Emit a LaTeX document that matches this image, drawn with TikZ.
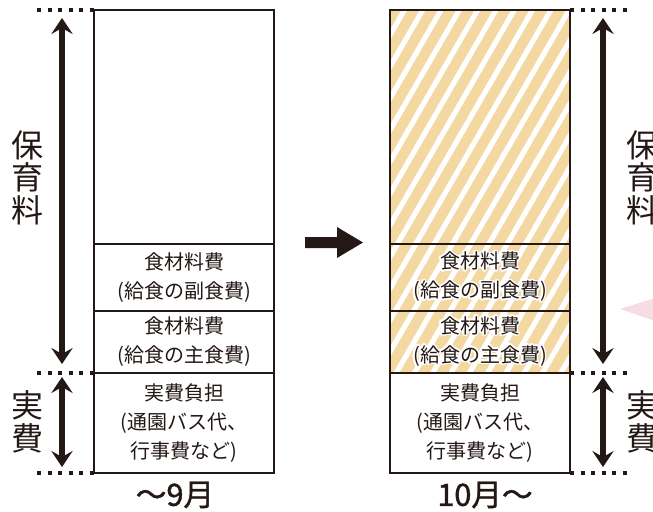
\documentclass[tikz,border=0pt]{standalone}
\usepackage{fontspec}
\setmainfont{Noto Sans CJK JP}
\newfontfamily\monthfont[AutoFakeBold=1.3]{Noto Sans CJK JP}
\usepackage{contour}
\contourlength{1.2pt}
\contournumber{20}
\usetikzlibrary{arrows.meta}
\definecolor{ink}{RGB}{35,24,21}
\definecolor{hatch}{RGB}{243,216,162}
\definecolor{pinkmark}{RGB}{246,220,229}
\tikzset{
	seg/.style={draw=ink, line width=1.5pt, inner sep=0pt, outer sep=0pt, minimum width=135pt, align=center, text=ink, font=\fontsize{15pt}{21.75pt}\selectfont},
	dots/.style={ink, line width=3pt, dash pattern=on 3pt off 4.9pt},
	span/.style={ink, line width=4pt, {Stealth[length=12pt,width=16pt,inset=4.5pt]}-{Stealth[length=12pt,width=16pt,inset=4.5pt]}},
	vlabel/.style={align=center, text=ink, inner sep=0pt, font=\fontsize{24pt}{24.4pt}\selectfont},
	month/.style={text=ink, inner sep=0pt, font=\monthfont\fontsize{23pt}{26pt}\selectfont\bfseries},
	stripe/.style={hatch, line width=7.8pt},
}
\begin{document}
\begin{tikzpicture}[x=.75pt,y=-.75pt]
		\useasboundingbox (0,0) rectangle (653,511);
		
		% hatching of the new column
		\begin{scope}
			\clip (390,10) rectangle (570,373);
			\foreach \k in {-1,...,21} \draw[stripe] ({204+18.3*\k-5.2},382) -- ({204+18.3*\k+214.8},1);
		\end{scope}
		
		% left column (up to September)
		\node[seg, minimum height=175.5pt] (Lfree) at (184,127) {};
		\node[seg, minimum height=50.25pt] (Lside) at (184,277.5) {食材料費\\(給食の副食費)};
		\node[seg, minimum height=46.5pt] (Lmain) at (184,342) {食材料費\\(給食の主食費)};
		\node[seg, minimum height=75pt] (Lreal) at (184,423) {実費負担\\(通園バス代、\\行事費など)};
		
		% right column (from October)
		\node[seg, minimum height=175.5pt] (Rfree) at (480,127) {};
		\node[seg, minimum height=50.25pt] (Rside) at (480,277.5) {\contour{white}{食材料費}\\\contour{white}{(給食の副食費)}};
		\node[seg, minimum height=46.5pt] (Rmain) at (480,342) {\contour{white}{食材料費}\\\contour{white}{(給食の主食費)}};
		\node[seg, minimum height=75pt] (Rreal) at (480,423) {実費負担\\(通園バス代、\\行事費など)};
		
		% dotted guides
		\coordinate (dL1) at (37,10); \coordinate (dL2) at (37,373); \coordinate (dL3) at (37,473);
		\draw[dots] (dL1) -- (Lfree.north west);
		\draw[dots] (dL2) -- (Lreal.north west);
		\draw[dots] (dL3) -- (Lreal.south west);
		\coordinate (dR1) at (628,10); \coordinate (dR2) at (628,373); \coordinate (dR3) at (628,473);
		\draw[dots] (Rfree.north east) -- (dR1);
		\draw[dots] (Rreal.north east) -- (dR2);
		\draw[dots] (Rreal.south east) -- (dR3);
		
		% spans
		\coordinate (aL1) at (62,18); \coordinate (aL2) at (62,364);
		\coordinate (aL3) at (62,377); \coordinate (aL4) at (62,467);
		\draw[span] (aL1) -- (aL2);
		\draw[span] (aL3) -- (aL4);
		\coordinate (aR1) at (603,18); \coordinate (aR2) at (603,364);
		\coordinate (aR3) at (603,377); \coordinate (aR4) at (603,467);
		\draw[span] (aR1) -- (aR2);
		\draw[span] (aR3) -- (aR4);
		
		\node[vlabel] (hoikuL) at (27.5,177.5) {保\\育\\料};
		\node[vlabel] (jippiL) at (27.5,422) {実\\費};
		\node[vlabel] (hoikuR) at (642,177.5) {保\\育\\料};
		\node[vlabel] (jippiR) at (642,422) {実\\費};
		
		\node[month] (before) at (175,495) {〜9月};
		\node[month] (after) at (485,495) {10月〜};
		
		% change arrow and pink mark
		\fill[ink] (305,237) -- (337,237) -- (337,227) -- (363,242.5) -- (337,258) -- (337,248) -- (305,248) -- cycle;
		\fill[pinkmark] (620,309) -- (655,298) -- (655,321) -- cycle;
\end{tikzpicture}
\end{document}
